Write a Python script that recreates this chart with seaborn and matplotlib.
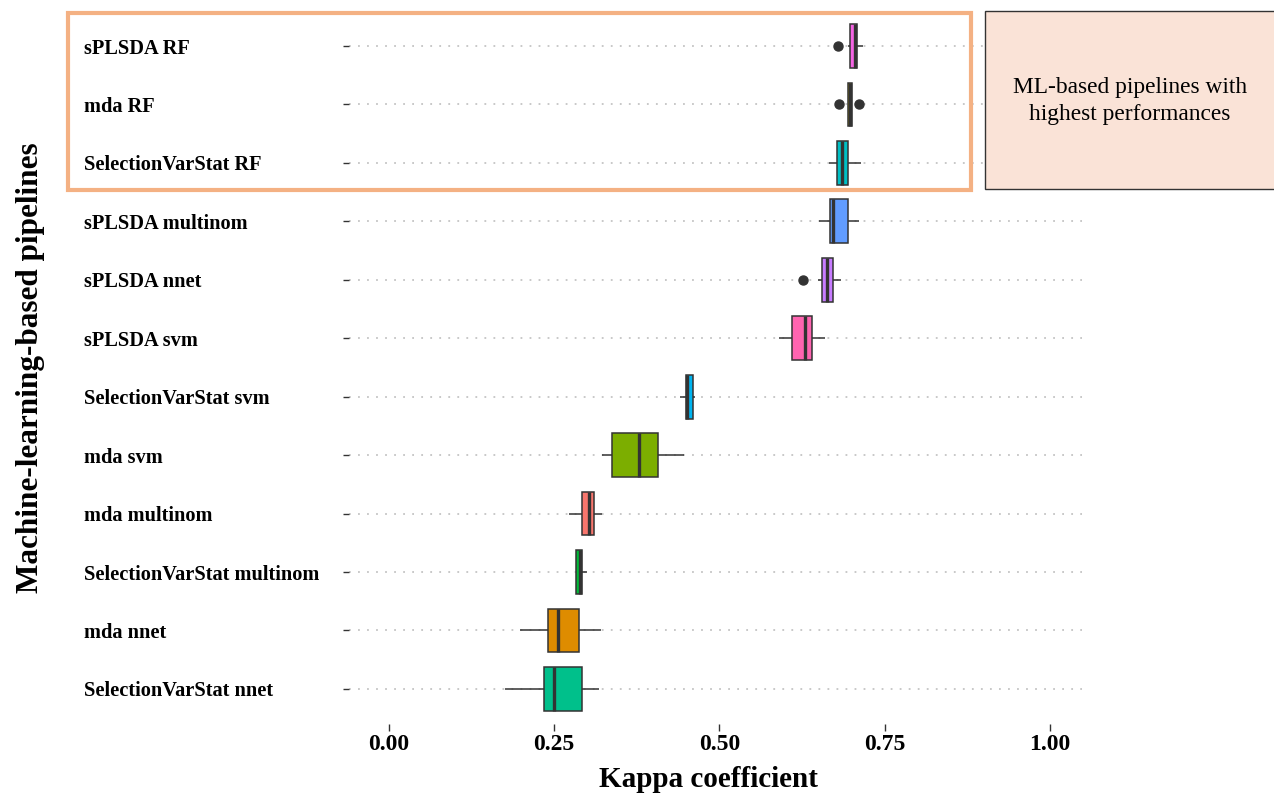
import pandas as pd
import matplotlib
matplotlib.use("Agg")
import matplotlib.pyplot as plt
from matplotlib.patches import Rectangle
import seaborn as sns

# pipelines, top to bottom
pipelines = ["sPLSDA RF", "mda RF", "SelectionVarStat RF", "sPLSDA multinom",
             "sPLSDA nnet", "sPLSDA svm", "SelectionVarStat svm", "mda svm",
             "mda multinom", "SelectionVarStat multinom", "mda nnet",
             "SelectionVarStat nnet"]

# kappa values per pipeline (9 runs each)
splsda_rf = [0.680, 0.694, 0.698, 0.702, 0.705, 0.706, 0.708, 0.712, 0.717]
mda_rf = [0.681, 0.695, 0.695, 0.697, 0.698, 0.699, 0.700, 0.700, 0.711]
svs_rf = [0.666, 0.672, 0.678, 0.683, 0.686, 0.690, 0.695, 0.705, 0.714]
splsda_multinom = [0.650, 0.660, 0.667, 0.670, 0.672, 0.685, 0.695, 0.703, 0.711]
splsda_nnet = [0.626, 0.649, 0.655, 0.660, 0.663, 0.667, 0.671, 0.677, 0.684]
splsda_svm = [0.590, 0.600, 0.610, 0.622, 0.630, 0.635, 0.640, 0.650, 0.659]
svs_svm = [0.441, 0.446, 0.449, 0.450, 0.451, 0.455, 0.460, 0.462, 0.463]
mda_svm = [0.323, 0.330, 0.337, 0.360, 0.378, 0.392, 0.407, 0.425, 0.446]
mda_multinom = [0.273, 0.285, 0.292, 0.298, 0.302, 0.306, 0.310, 0.316, 0.323]
svs_multinom = [0.283, 0.283, 0.283, 0.286, 0.289, 0.290, 0.292, 0.296, 0.299]
mda_nnet = [0.198, 0.220, 0.240, 0.248, 0.255, 0.270, 0.287, 0.305, 0.321]
svs_nnet = [0.176, 0.210, 0.234, 0.240, 0.249, 0.270, 0.292, 0.305, 0.317]

values = [splsda_rf, mda_rf, svs_rf, splsda_multinom, splsda_nnet, splsda_svm,
          svs_svm, mda_svm, mda_multinom, svs_multinom, mda_nnet, svs_nnet]

# ggplot hue colours
colors = ["#F564E3", "#B79F00", "#00BFC4", "#619CFF", "#C77CFF", "#FF64B0",
          "#00B4F0", "#7CAE00", "#F8766D", "#00BA38", "#DE8C00", "#00C08B"]

rows = []
for name, vals in zip(pipelines, values):
    for v in vals:
        rows.append({"pipeline": name, "kappa": v})
df = pd.DataFrame(rows)

sns.set_style("white")
plt.rcParams["font.family"] = ["Liberation Serif", "DejaVu Serif"]
plt.rcParams["text.color"] = "black"
plt.rcParams["xtick.labelcolor"] = "black"
plt.rcParams["ytick.labelcolor"] = "black"
plt.rcParams["axes.labelcolor"] = "black"

fig = plt.figure(figsize=(12.74, 7.99), dpi=100)
ax = fig.add_axes([0.2739, 0.0939, 0.5754, 0.8924])

sns.boxplot(data=df, x="kappa", y="pipeline", order=pipelines, hue="pipeline",
            hue_order=pipelines, palette=dict(zip(pipelines, colors)),
            legend=False, saturation=1, width=0.75, linecolor="#333333",
            linewidth=1.1, fliersize=6.5, showcaps=False,
            medianprops=dict(linewidth=2.4, color="#333333"),
            flierprops=dict(marker="o", markerfacecolor="#333333",
                            markeredgecolor="#333333"),
            ax=ax)

ax.set_xlim(-0.0605, 1.0484)
ax.set_ylim(11.6, -0.6)
ax.set_xticks([0, 0.25, 0.5, 0.75, 1.0])
ax.set_xticklabels(["0.00", "0.25", "0.50", "0.75", "1.00"])

ax.grid(axis="y", color="#c4c4c4", linestyle=(0, (1, 4)), linewidth=1.3)
ax.grid(axis="x", visible=False)
ax.set_axisbelow(True)
for s in ax.spines.values():
    s.set_visible(False)

ax.tick_params(axis="both", width=1, color="#333333", bottom=True, left=True)
ax.tick_params(axis="x", length=5, pad=2.5, labelsize=17)
ax.tick_params(axis="y", length=4.5, pad=186.5, labelsize=14.7)
for lab in ax.get_xticklabels() + ax.get_yticklabels():
    lab.set_fontweight("bold")
for lab in ax.get_yticklabels():
    lab.set_horizontalalignment("left")

ax.set_xlabel("Kappa coefficient", fontsize=21, fontweight="bold")
ax.set_ylabel("Machine-learning-based pipelines", fontsize=22.5, fontweight="bold")
ax.xaxis.set_label_coords(0.490, -0.059)
ax.yaxis.set_label_coords(-0.414, 0.5)

# highlight frame around the top three pipelines
W, H = 1274, 799
fig.add_artist(Rectangle((68 / W, 1 - 190 / H), (971 - 68) / W, (190 - 12.5) / H,
                         transform=fig.transFigure, fill=False,
                         edgecolor="#F4B183", linewidth=3))
# note box
fig.add_artist(Rectangle((985 / W, 1 - 189 / H), (1290 - 985) / W, (189 - 11) / H,
                         transform=fig.transFigure, facecolor="#FAE3D7",
                         edgecolor="#333333", linewidth=1))
fig.text(1130 / W, 1 - 101 / H, "ML-based pipelines with\nhighest performances",
         ha="center", va="center", fontsize=16.8, linespacing=1.35)

fig.savefig("out.png", dpi=100)
